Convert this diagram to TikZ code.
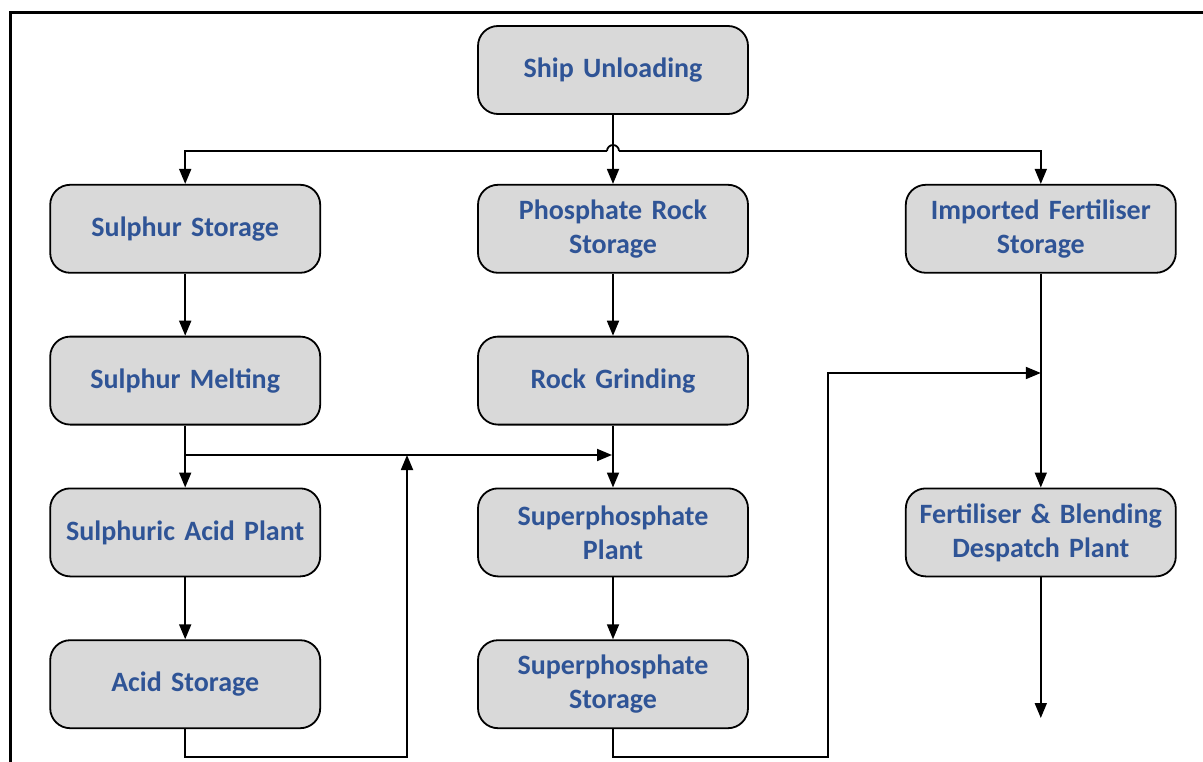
\documentclass[tikz,border=0pt]{standalone}
\usepackage{fontspec}
\setmainfont{Carlito}
\usepackage{xcolor}
\usepackage{tikz}
\usetikzlibrary{arrows.meta,positioning}

\definecolor{boxgray}{RGB}{217,217,217}
\definecolor{textblue}{RGB}{47,84,150}

\begin{document}
\begin{tikzpicture}[
    x=1pt, y=-1pt,
    node distance=62pt and 156pt,
    block/.style={rectangle, draw, line width=1.8pt, fill=boxgray, rounded corners=20pt,
        minimum width=270pt, minimum height=88pt, text width=260pt, align=center,
        font=\fontsize{28}{34}\selectfont\bfseries, text=textblue},
    arrow/.style={line width=1.8pt,->,>={Triangle[length=15pt,width=12pt]}},
    line/.style={line width=1.8pt}
]
\useasboundingbox (0,0) rectangle (1203,762);

% Frame
\draw[line width=3pt] (10,762) -- (10,13) -- (1203,13);

% Top
\node[block] (ship) at (613,70) {Ship Unloading};

% Storage row
\node[block, below=69pt of ship] (phosstore) {Phosphate Rock\\Storage};
\node[block, left=of phosstore] (sulstore) {Sulphur Storage};
\node[block, right=of phosstore] (impstore) {Imported Fertiliser\\Storage};

% Sulphur branch
\node[block, below=of sulstore] (sulmelt) {Sulphur Melting};
\node[block, below=of sulmelt] (acidplant) {Sulphuric Acid Plant};
\node[block, below=of acidplant] (acidstore) {Acid Storage};

% Phosphate branch
\node[block, below=of phosstore] (grinding) {Rock Grinding};
\node[block, below=of grinding] (superplant) {Superphosphate\\Plant};
\node[block, below=of superplant] (superstore) {Superphosphate\\Storage};

% Fertiliser branch
\node[block, right=of superplant] (despatch) {Fertiliser \& Blending\\Despatch Plant};

% Junctions
\coordinate (hopL) at (607,151);
\coordinate (hopR) at (619,151);
\coordinate (sj) at (sulmelt.south |- 0,455);
\coordinate (aj) at (407,455);
\coordinate (abend) at (acidstore.south |- 0,757);
\coordinate (sbend) at (828,757);
\coordinate (fj) at (impstore.south |- 0,373);
\coordinate (fout) at (despatch.south |- 0,718);

% Arrows
\draw[arrow] (ship) -- (phosstore);
\draw[arrow] (hopL) -| (sulstore.north);
\draw[arrow] (hopR) -| (impstore.north);
\draw[line] (hopL) arc (180:0:6pt);

\draw[arrow] (sulstore) -- (sulmelt);
\draw[arrow] (sulmelt) -- (acidplant);
\draw[arrow] (acidplant) -- (acidstore);
\draw[arrow] (sj) -- ([xshift=-1pt]superplant.north |- sj);
\draw[arrow] (acidstore.south) -- (abend) -| (aj);

\draw[arrow] (phosstore) -- (grinding);
\draw[arrow] (grinding) -- (superplant);
\draw[arrow] (superplant) -- (superstore);
\draw[arrow] (superstore.south) |- (sbend) |- (fj);

\draw[arrow] (impstore) -- (despatch);
\draw[arrow] (despatch.south) -- (fout);

\end{tikzpicture}
\end{document}
